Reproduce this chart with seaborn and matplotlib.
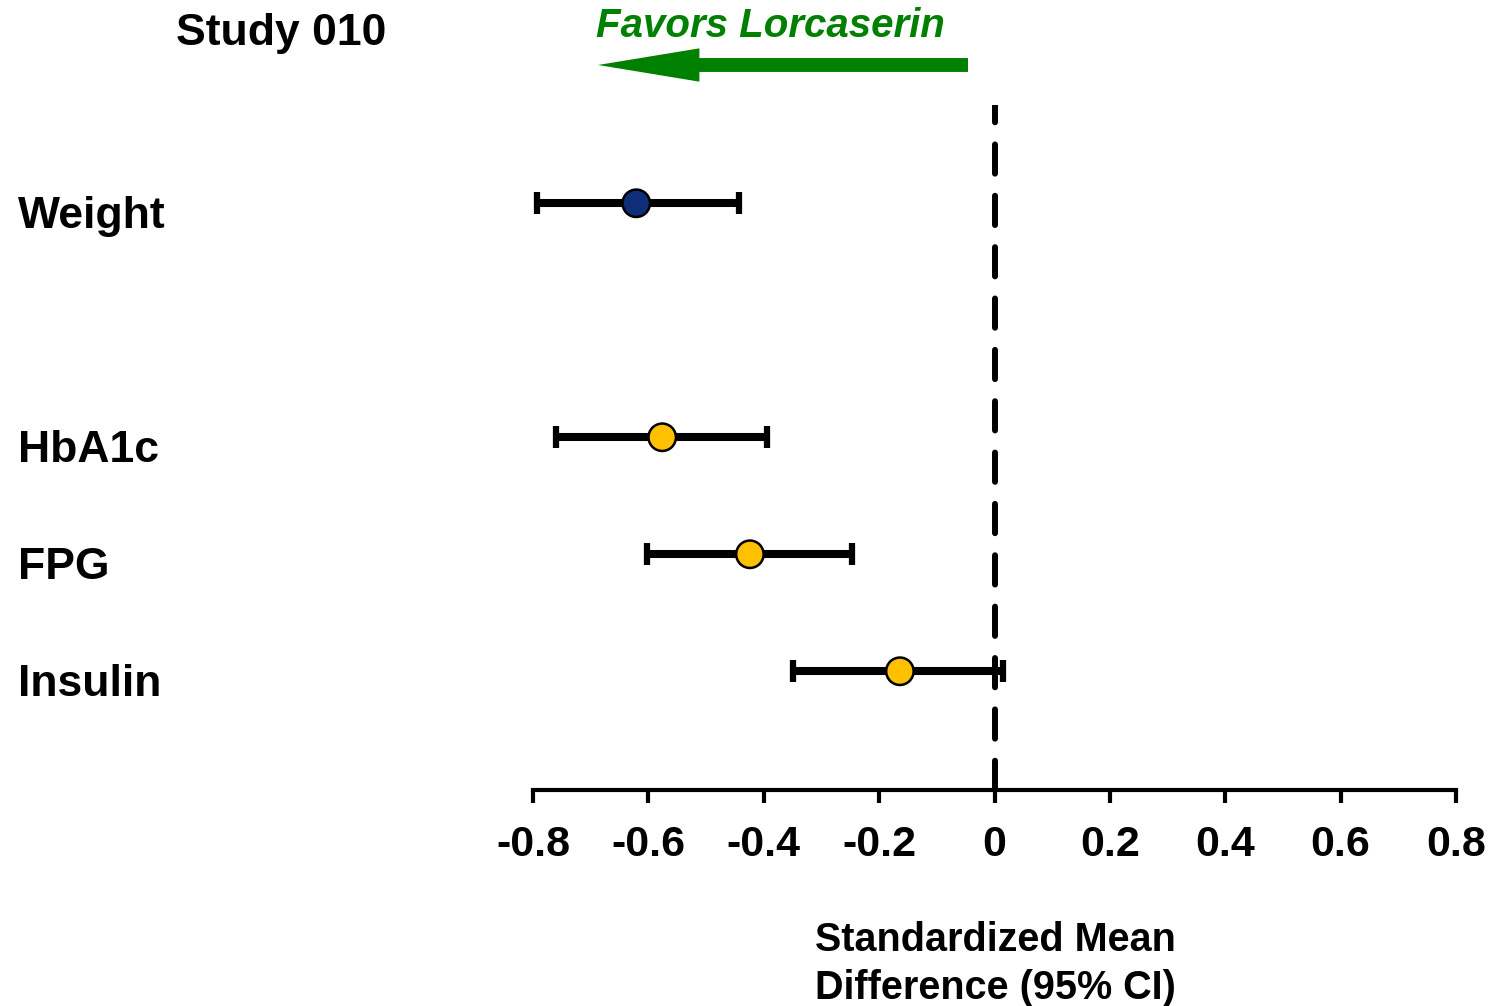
import matplotlib
matplotlib.use("Agg")
import matplotlib.pyplot as plt
import matplotlib.transforms as mtransforms
from matplotlib.patches import FancyArrowPatch
import seaborn as sns
import pandas as pd

# Standardized mean differences with 95% confidence limits
outcomes = ["Weight", "HbA1c", "FPG", "Insulin"]
row_pos = [0, 2, 3, 4]
smd = [-0.621, -0.576, -0.424, -0.164]
ci_low = [-0.793, -0.760, -0.602, -0.349]
ci_high = [-0.443, -0.394, -0.247, 0.015]
groups = ["weight", "glycemic", "glycemic", "glycemic"]
group_colors = {"weight": "#0E2F78", "glycemic": "#FFC000"}
x_ticks = [-0.8, -0.6, -0.4, -0.2, 0, 0.2, 0.4, 0.6, 0.8]
x_tick_labels = ["-0.8", "-0.6", "-0.4", "-0.2", "0", "0.2", "0.4", "0.6", "0.8"]

df = pd.DataFrame({"outcome": outcomes, "pos": row_pos, "smd": smd,
                   "lo": ci_low, "hi": ci_high, "group": groups})

sns.set_theme(style="white")
plt.rcParams["font.family"] = ["Liberation Sans", "DejaVu Sans"]
plt.rcParams["font.weight"] = "bold"
plt.rcParams["text.color"] = "black"
plt.rcParams["xtick.color"] = "black"

W, H = 1491, 1006
fig = plt.figure(figsize=(W / 100, H / 100), dpi=100)
ax = fig.add_axes([533 / W, (H - 790) / H, (1456 - 533) / W, (790 - 105) / H])

# reference line at zero
ax.axvline(0, color="black", lw=4.3, dashes=(4.9, 3.7), dash_capstyle="round",
           zorder=1)

# confidence intervals
ax.errorbar(df["smd"], df["pos"], xerr=[df["smd"] - df["lo"], df["hi"] - df["smd"]],
            fmt="none", ecolor="black", elinewidth=5.8, capsize=8, capthick=4.5,
            zorder=2)

# point estimates
sns.scatterplot(data=df, x="smd", y="pos", hue="group", palette=group_colors,
                s=390, edgecolor="black", linewidth=1.8, legend=False, ax=ax,
                zorder=3)

ax.set_xlim(-0.8, 0.8)
ax.set_ylim(5.015, -0.84)
ax.set_xticks(x_ticks)
ax.set_xticklabels(x_tick_labels, fontsize=31, fontweight="bold", color="black")
ax.set_yticks([])
ax.set_xlabel("")
ax.set_ylabel("")
for side in ["left", "right", "top"]:
    ax.spines[side].set_visible(False)
ax.spines["bottom"].set_linewidth(3)
ax.spines["bottom"].set_color("black")
ax.tick_params(axis="x", direction="out", length=9, width=3, color="black",
               labelcolor="black", pad=16, bottom=True)

# outcome labels at the left edge
lab_tr = mtransforms.blended_transform_factory(fig.transFigure, ax.transData)
for name, p in zip(outcomes, row_pos):
    ax.text(18 / W, p + 0.215, name, transform=lab_tr, ha="left", va="baseline",
            fontsize=32, fontweight="bold", color="black")

fig.text(176 / W, 1 - 34 / H, "Study 010", ha="left", va="center",
         fontsize=32, fontweight="bold", color="black")

fig.text(770 / W, 1 - 26 / H, "Favors Lorcaserin", ha="center", va="center",
         fontsize=29, fontweight="bold", fontstyle="italic", color="#008000")

arrow = FancyArrowPatch((968 / W, 1 - 65 / H), (598 / W, 1 - 65 / H),
                        transform=fig.transFigure,
                        arrowstyle="simple,head_length=73,head_width=24,tail_width=10",
                        mutation_scale=1, color="#008000", lw=0,
                        shrinkA=0, shrinkB=0)
fig.patches.append(arrow)

fig.text(815 / W, 1 - 921 / H, "Standardized Mean\nDifference (95% CI)",
         ha="left", va="top", fontsize=28.5, fontweight="bold", color="black",
         linespacing=1.32)

fig.savefig("out.png", dpi=100, facecolor="white")
